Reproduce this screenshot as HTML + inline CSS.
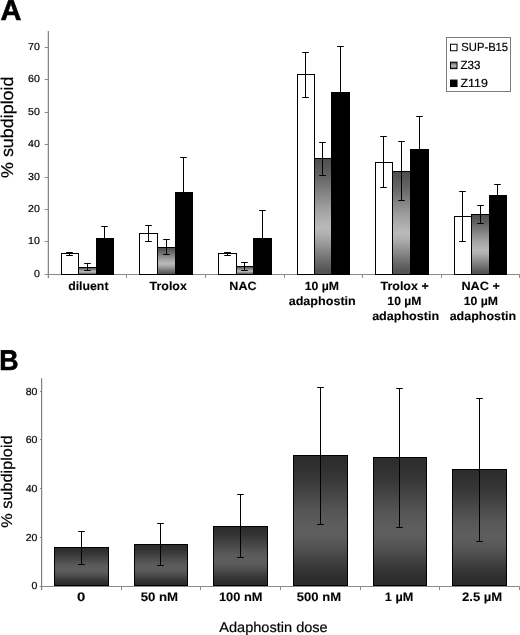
<!DOCTYPE html>
<html><head><meta charset="utf-8"><style>
html,body{margin:0;padding:0;background:#fff;width:520px;height:635px;overflow:hidden;}
svg{display:block;font-family:"Liberation Sans",sans-serif;filter:grayscale(1);}
</style></head><body>
<svg width="520" height="635" viewBox="0 0 520 635" font-family="Liberation Sans, sans-serif" text-rendering="geometricPrecision" fill="#000"><defs>
<linearGradient id="ga" x1="0" y1="0" x2="0" y2="1"><stop offset="0.000" stop-color="#4e4e4e"/><stop offset="0.050" stop-color="#545454"/><stop offset="0.100" stop-color="#5c5c5c"/><stop offset="0.150" stop-color="#646464"/><stop offset="0.200" stop-color="#6e6e6e"/><stop offset="0.250" stop-color="#797979"/><stop offset="0.300" stop-color="#848484"/><stop offset="0.350" stop-color="#8e8e8e"/><stop offset="0.400" stop-color="#999999"/><stop offset="0.450" stop-color="#a3a3a3"/><stop offset="0.500" stop-color="#ababab"/><stop offset="0.550" stop-color="#b3b3b3"/><stop offset="0.600" stop-color="#b9b9b9"/><stop offset="0.650" stop-color="#b0b0b0"/><stop offset="0.700" stop-color="#a3a3a3"/><stop offset="0.750" stop-color="#949494"/><stop offset="0.800" stop-color="#848484"/><stop offset="0.850" stop-color="#757575"/><stop offset="0.900" stop-color="#666666"/><stop offset="0.950" stop-color="#595959"/><stop offset="1.000" stop-color="#505050"/></linearGradient>
<linearGradient id="gb" x1="0" y1="0" x2="0" y2="1"><stop offset="0.000" stop-color="#2c2c2c"/><stop offset="0.050" stop-color="#2e2e2e"/><stop offset="0.100" stop-color="#313131"/><stop offset="0.150" stop-color="#353535"/><stop offset="0.200" stop-color="#3a3a3a"/><stop offset="0.250" stop-color="#404040"/><stop offset="0.300" stop-color="#464646"/><stop offset="0.350" stop-color="#4c4c4c"/><stop offset="0.400" stop-color="#525252"/><stop offset="0.450" stop-color="#575757"/><stop offset="0.500" stop-color="#5b5b5b"/><stop offset="0.550" stop-color="#5d5d5d"/><stop offset="0.600" stop-color="#5d5d5d"/><stop offset="0.650" stop-color="#595959"/><stop offset="0.700" stop-color="#535353"/><stop offset="0.750" stop-color="#4b4b4b"/><stop offset="0.800" stop-color="#424242"/><stop offset="0.850" stop-color="#393939"/><stop offset="0.900" stop-color="#323232"/><stop offset="0.950" stop-color="#2d2d2d"/><stop offset="1.000" stop-color="#2a2a2a"/></linearGradient>
</defs>
<path d="M44.7 274.5H519.8" stroke="#8a8a8a" stroke-width="1" fill="none"/>
<rect x="61.5" y="253.5" width="17" height="21" fill="#fff" stroke="#000" stroke-width="1"/>
<rect x="78.5" y="267.5" width="18" height="7" fill="url(#ga)" stroke="#000" stroke-width="1"/>
<rect x="96.5" y="238.5" width="17" height="36" fill="#000" stroke="#000" stroke-width="1"/>
<path d="M69.5 252.5V255.5M66.2 252.5H72.8M66.2 255.5H72.8" stroke="#000" stroke-width="1" fill="none"/>
<path d="M87.5 263.5V270.5M84.2 263.5H90.8M84.2 270.5H90.8" stroke="#000" stroke-width="1" fill="none"/>
<path d="M104.5 226.5V250.5M101.2 226.5H107.8M101.2 250.5H107.8" stroke="#000" stroke-width="1" fill="none"/>
<rect x="139.5" y="233.5" width="18" height="41" fill="#fff" stroke="#000" stroke-width="1"/>
<rect x="157.5" y="247.5" width="18" height="27" fill="url(#ga)" stroke="#000" stroke-width="1"/>
<rect x="175.5" y="192.5" width="17" height="82" fill="#000" stroke="#000" stroke-width="1"/>
<path d="M148.5 225.5V241.5M145.2 225.5H151.8M145.2 241.5H151.8" stroke="#000" stroke-width="1" fill="none"/>
<path d="M166.5 239.5V254.5M163.2 239.5H169.8M163.2 254.5H169.8" stroke="#000" stroke-width="1" fill="none"/>
<path d="M183.5 157.5V226.5M180.2 157.5H186.8M180.2 226.5H186.8" stroke="#000" stroke-width="1" fill="none"/>
<rect x="218.5" y="253.5" width="18" height="21" fill="#fff" stroke="#000" stroke-width="1"/>
<rect x="236.5" y="266.5" width="17" height="8" fill="url(#ga)" stroke="#000" stroke-width="1"/>
<rect x="253.5" y="238.5" width="18" height="36" fill="#000" stroke="#000" stroke-width="1"/>
<path d="M227.5 252.5V255.5M224.2 252.5H230.8M224.2 255.5H230.8" stroke="#000" stroke-width="1" fill="none"/>
<path d="M244.5 262.5V270.5M241.2 262.5H247.8M241.2 270.5H247.8" stroke="#000" stroke-width="1" fill="none"/>
<path d="M262.5 210.5V265.5M259.2 210.5H265.8M259.2 265.5H265.8" stroke="#000" stroke-width="1" fill="none"/>
<rect x="297.5" y="74.5" width="17" height="200" fill="#fff" stroke="#000" stroke-width="1"/>
<rect x="314.5" y="158.5" width="17" height="116" fill="url(#ga)" stroke="#000" stroke-width="1"/>
<rect x="331.5" y="92.5" width="18" height="182" fill="#000" stroke="#000" stroke-width="1"/>
<path d="M305.5 52.5V97.5M302.2 52.5H308.8M302.2 97.5H308.8" stroke="#000" stroke-width="1" fill="none"/>
<path d="M322.5 142.5V175.5M319.2 142.5H325.8M319.2 175.5H325.8" stroke="#000" stroke-width="1" fill="none"/>
<path d="M340.5 46.5V138.5M337.2 46.5H343.8M337.2 138.5H343.8" stroke="#000" stroke-width="1" fill="none"/>
<rect x="375.5" y="162.5" width="17" height="112" fill="#fff" stroke="#000" stroke-width="1"/>
<rect x="392.5" y="171.5" width="18" height="103" fill="url(#ga)" stroke="#000" stroke-width="1"/>
<rect x="410.5" y="149.5" width="18" height="125" fill="#000" stroke="#000" stroke-width="1"/>
<path d="M383.5 136.5V187.5M380.2 136.5H386.8M380.2 187.5H386.8" stroke="#000" stroke-width="1" fill="none"/>
<path d="M401.5 141.5V200.5M398.2 141.5H404.8M398.2 200.5H404.8" stroke="#000" stroke-width="1" fill="none"/>
<path d="M419.5 116.5V181.5M416.2 116.5H422.8M416.2 181.5H422.8" stroke="#000" stroke-width="1" fill="none"/>
<rect x="454.5" y="216.5" width="17" height="58" fill="#fff" stroke="#000" stroke-width="1"/>
<rect x="471.5" y="214.5" width="18" height="60" fill="url(#ga)" stroke="#000" stroke-width="1"/>
<rect x="489.5" y="195.5" width="17" height="79" fill="#000" stroke="#000" stroke-width="1"/>
<path d="M462.5 191.5V241.5M459.2 191.5H465.8M459.2 241.5H465.8" stroke="#000" stroke-width="1" fill="none"/>
<path d="M480.5 205.5V223.5M477.2 205.5H483.8M477.2 223.5H483.8" stroke="#000" stroke-width="1" fill="none"/>
<path d="M497.5 184.5V206.5M494.2 184.5H500.8M494.2 206.5H500.8" stroke="#000" stroke-width="1" fill="none"/>
<path d="M48.35 31V277.9" stroke="#808080" stroke-width="1.2" fill="none"/>
<path d="M126.5 274.5V277.9" stroke="#8a8a8a" stroke-width="1"/>
<path d="M205.5 274.5V277.9" stroke="#8a8a8a" stroke-width="1"/>
<path d="M284.5 274.5V277.9" stroke="#8a8a8a" stroke-width="1"/>
<path d="M362.5 274.5V277.9" stroke="#8a8a8a" stroke-width="1"/>
<path d="M441.5 274.5V277.9" stroke="#8a8a8a" stroke-width="1"/>
<path d="M519.5 274.5V277.9" stroke="#8a8a8a" stroke-width="1"/>
<text transform="translate(39.908 276.880) scale(1.0410 1)" font-size="10.200" text-anchor="end" stroke="#000" stroke-width="0.2">0</text>
<path d="M44.7 241.5H48.2" stroke="#8a8a8a" stroke-width="1"/>
<text transform="translate(39.908 244.440) scale(1.0410 1)" font-size="10.200" text-anchor="end" stroke="#000" stroke-width="0.2">10</text>
<path d="M44.7 209.5H48.2" stroke="#8a8a8a" stroke-width="1"/>
<text transform="translate(39.908 212.000) scale(1.0410 1)" font-size="10.200" text-anchor="end" stroke="#000" stroke-width="0.2">20</text>
<path d="M44.7 177.5H48.2" stroke="#8a8a8a" stroke-width="1"/>
<text transform="translate(39.908 179.560) scale(1.0410 1)" font-size="10.200" text-anchor="end" stroke="#000" stroke-width="0.2">30</text>
<path d="M44.7 144.5H48.2" stroke="#8a8a8a" stroke-width="1"/>
<text transform="translate(39.908 147.120) scale(1.0410 1)" font-size="10.200" text-anchor="end" stroke="#000" stroke-width="0.2">40</text>
<path d="M44.7 112.5H48.2" stroke="#8a8a8a" stroke-width="1"/>
<text transform="translate(39.908 114.680) scale(1.0410 1)" font-size="10.200" text-anchor="end" stroke="#000" stroke-width="0.2">50</text>
<path d="M44.7 79.5H48.2" stroke="#8a8a8a" stroke-width="1"/>
<text transform="translate(39.908 82.240) scale(1.0410 1)" font-size="10.200" text-anchor="end" stroke="#000" stroke-width="0.2">60</text>
<path d="M44.7 47.5H48.2" stroke="#8a8a8a" stroke-width="1"/>
<text transform="translate(39.908 49.800) scale(1.0410 1)" font-size="10.200" text-anchor="end" stroke="#000" stroke-width="0.2">70</text>
<text transform="translate(12.925 177.950) rotate(-90) scale(1.0455 1)" font-size="17.116" stroke="#000" stroke-width="0.2">% subdiploid</text>
<rect x="446.5" y="37.5" width="64" height="54" fill="#fff" stroke="#7a7a7a" stroke-width="1"/>
<rect x="450.5" y="44.25" width="6.5" height="6.5" fill="#fff" stroke="#000" stroke-width="1"/>
<rect x="450.5" y="62.15" width="6.5" height="6.5" fill="url(#ga)" stroke="#000" stroke-width="1"/>
<rect x="450.5" y="80.05" width="6.5" height="6.5" fill="#000" stroke="#000" stroke-width="1"/>
<rect x="54.5" y="547.5" width="54" height="38" fill="url(#gb)" stroke="#000" stroke-width="1"/>
<path d="M81.5 531.5V564.5M78.2 531.5H84.8M78.2 564.5H84.8" stroke="#000" stroke-width="1" fill="none"/>
<rect x="134.5" y="544.5" width="53" height="41" fill="url(#gb)" stroke="#000" stroke-width="1"/>
<path d="M160.5 523.5V565.5M157.2 523.5H163.8M157.2 565.5H163.8" stroke="#000" stroke-width="1" fill="none"/>
<rect x="213.5" y="526.5" width="54" height="59" fill="url(#gb)" stroke="#000" stroke-width="1"/>
<path d="M240.5 494.5V557.5M237.2 494.5H243.8M237.2 557.5H243.8" stroke="#000" stroke-width="1" fill="none"/>
<rect x="293.5" y="455.5" width="54" height="130" fill="url(#gb)" stroke="#000" stroke-width="1"/>
<path d="M320.5 387.5V524.5M317.2 387.5H323.8M317.2 524.5H323.8" stroke="#000" stroke-width="1" fill="none"/>
<rect x="373.5" y="457.5" width="53" height="128" fill="url(#gb)" stroke="#000" stroke-width="1"/>
<path d="M399.5 388.5V527.5M396.2 388.5H402.8M396.2 527.5H402.8" stroke="#000" stroke-width="1" fill="none"/>
<rect x="452.5" y="469.5" width="54" height="116" fill="url(#gb)" stroke="#000" stroke-width="1"/>
<path d="M479.5 398.5V541.5M476.2 398.5H482.8M476.2 541.5H482.8" stroke="#000" stroke-width="1" fill="none"/>
<path d="M41.6 378.2V589.9" stroke="#808080" stroke-width="1.2" fill="none"/>
<path d="M39.5 586.5H519.4" stroke="#8a8a8a" stroke-width="1" fill="none"/>
<path d="M121.5 586.5V590.1" stroke="#8a8a8a" stroke-width="1"/>
<path d="M200.5 586.5V590.1" stroke="#8a8a8a" stroke-width="1"/>
<path d="M280.5 586.5V590.1" stroke="#8a8a8a" stroke-width="1"/>
<path d="M360.5 586.5V590.1" stroke="#8a8a8a" stroke-width="1"/>
<path d="M439.5 586.5V590.1" stroke="#8a8a8a" stroke-width="1"/>
<path d="M519.5 586.5V590.1" stroke="#8a8a8a" stroke-width="1"/>
<text transform="translate(37.478 589.225) scale(1.0340 1)" font-size="10.200" text-anchor="end" stroke="#000" stroke-width="0.2">0</text>
<path d="M40 537.5H41.5" stroke="#8a8a8a" stroke-width="1"/>
<text transform="translate(37.478 540.625) scale(1.0340 1)" font-size="10.200" text-anchor="end" stroke="#000" stroke-width="0.2">20</text>
<path d="M40 488.5H41.5" stroke="#8a8a8a" stroke-width="1"/>
<text transform="translate(37.478 492.025) scale(1.0340 1)" font-size="10.200" text-anchor="end" stroke="#000" stroke-width="0.2">40</text>
<path d="M40 439.5H41.5" stroke="#8a8a8a" stroke-width="1"/>
<text transform="translate(37.478 443.425) scale(1.0340 1)" font-size="10.200" text-anchor="end" stroke="#000" stroke-width="0.2">60</text>
<path d="M40 391.5H41.5" stroke="#8a8a8a" stroke-width="1"/>
<text transform="translate(37.478 394.825) scale(1.0340 1)" font-size="10.200" text-anchor="end" stroke="#000" stroke-width="0.2">80</text>
<text transform="translate(12.225 527.700) rotate(-90) scale(1.0530 1)" font-size="15.466" stroke="#000" stroke-width="0.2">% subdiploid</text>
<text transform="translate(-0.650 370.150) scale(0.9350 1)" font-size="28.600" font-weight="bold" stroke="#000" stroke-width="0.6">B</text>
<text transform="translate(0.475 19.900) scale(1.0125 1)" font-size="28.600" font-weight="bold" stroke="#000" stroke-width="0.6">A</text>
<text transform="translate(68.150 289.800) scale(1.0258 1)" font-size="12.000" font-weight="bold" stroke="#000" stroke-width="0.1">diluent</text>
<text transform="translate(149.550 289.800) scale(1.0358 1)" font-size="12.000" font-weight="bold" stroke="#000" stroke-width="0.1">Trolox</text>
<text transform="translate(229.350 289.800) scale(1.0452 1)" font-size="12.000" font-weight="bold" stroke="#000" stroke-width="0.1">NAC</text>
<text transform="translate(304.650 289.800) scale(1.0210 1)" font-size="12.000" font-weight="bold" stroke="#000" stroke-width="0.1">10 &#181;M</text>
<text transform="translate(288.625 304.800) scale(1.0497 1)" font-size="12.000" font-weight="bold" stroke="#000" stroke-width="0.1">adaphostin</text>
<text transform="translate(380.475 289.800) scale(1.0404 1)" font-size="12.000" font-weight="bold" stroke="#000" stroke-width="0.1">Trolox +</text>
<text transform="translate(387.350 304.800) scale(1.0156 1)" font-size="12.000" font-weight="bold" stroke="#000" stroke-width="0.1">10 &#181;M</text>
<text transform="translate(372.125 319.500) scale(1.0465 1)" font-size="12.000" font-weight="bold" stroke="#000" stroke-width="0.1">adaphostin</text>
<text transform="translate(461.425 289.800) scale(1.0593 1)" font-size="12.000" font-weight="bold" stroke="#000" stroke-width="0.1">NAC +</text>
<text transform="translate(463.750 304.800) scale(1.0219 1)" font-size="12.000" font-weight="bold" stroke="#000" stroke-width="0.1">10 &#181;M</text>
<text transform="translate(449.625 319.500) scale(1.0402 1)" font-size="12.000" font-weight="bold" stroke="#000" stroke-width="0.1">adaphostin</text>
<text transform="translate(461.350 50.950) scale(0.9506 1)" font-size="11.800" stroke="#000" stroke-width="0.2">SUP-B15</text>
<text transform="translate(460.525 69.100) scale(0.9846 1)" font-size="11.800" stroke="#000" stroke-width="0.2">Z33</text>
<text transform="translate(460.525 87.300) scale(1.0508 1)" font-size="11.800" stroke="#000" stroke-width="0.2">Z119</text>
<text transform="translate(76.875 600.830) scale(1.2132 1)" font-size="12.300" font-weight="bold" stroke="#000" stroke-width="0.1">0</text>
<text transform="translate(140.625 600.830) scale(1.0759 1)" font-size="12.300" font-weight="bold" stroke="#000" stroke-width="0.1">50 nM</text>
<text transform="translate(218.925 600.830) scale(1.0444 1)" font-size="12.300" font-weight="bold" stroke="#000" stroke-width="0.1">100 nM</text>
<text transform="translate(296.825 600.830) scale(1.0617 1)" font-size="12.300" font-weight="bold" stroke="#000" stroke-width="0.1">500 nM</text>
<text transform="translate(384.850 600.830) scale(1.0308 1)" font-size="12.300" font-weight="bold" stroke="#000" stroke-width="0.1">1 &#181;M</text>
<text transform="translate(462.000 600.830) scale(1.0628 1)" font-size="12.300" font-weight="bold" stroke="#000" stroke-width="0.1">2.5 &#181;M</text>
<text transform="translate(219.250 631.625) scale(1.0374 1)" font-size="14.045" stroke="#000" stroke-width="0.2">Adaphostin dose</text></svg>
</body></html>
